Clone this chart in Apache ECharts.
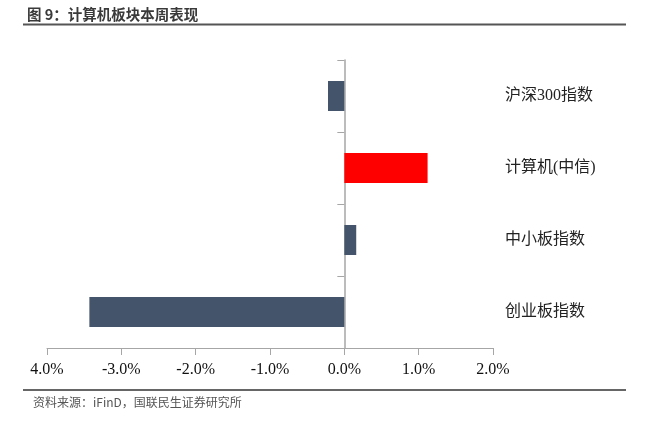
<!DOCTYPE html>
<html>
<head>
<meta charset="utf-8">
<script src="https://cdn.jsdelivr.net/npm/echarts@6/dist/echarts.min.js"></script>
<style>
html,body{margin:0;padding:0;background:#fff;}
#c{width:645px;height:424px;}
</style>
</head>
<body>
<div id="c"></div>
<script>
// Data (top to bottom)
var categories = ['沪深300指数', '计算机(中信)', '中小板指数', '创业板指数'];
var weeklyChange = [-0.22, 1.12, 0.16, -3.43];
var highlightCategory = '计算机(中信)';
var xTickValues = [-4, -3, -2, -1, 0, 1, 2];
var xTickLabels = ['4.0%', '-3.0%', '-2.0%', '-1.0%', '0.0%', '1.0%', '2.0%'];

var chart = echarts.init(document.getElementById('c'), null, {renderer: 'canvas'});
var serif = '"Liberation Serif", "Times New Roman", serif';
var cjk = '"Liberation Serif", "Noto Sans CJK SC", serif';

chart.setOption({
  animation: false,
  backgroundColor: '#ffffff',
  title: {
    text: '图 9：计算机板块本周表现',
    left: 27, top: 7, padding: 0,
    textStyle: {fontSize: 14.5, fontWeight: 'bold', color: '#3a3a3a', fontFamily: '"Noto Sans CJK SC", sans-serif'}
  },
  graphic: [
    {type: 'line', shape: {x1: 23, y1: 24.5, x2: 626, y2: 24.5}, style: {stroke: '#555', lineWidth: 2}},
    {type: 'line', shape: {x1: 23, y1: 390, x2: 626, y2: 390}, style: {stroke: '#666', lineWidth: 2}},
    {type: 'text', left: 33, top: 396, style: {text: '资料来源：iFinD，国联民生证券研究所', fontSize: 12, fill: '#555', fontFamily: '"Noto Sans CJK SC", sans-serif'}}
  ],
  grid: {left: 47, right: 152, top: 60, bottom: 76, containLabel: false},
  xAxis: {
    type: 'value', min: -4, max: 2, interval: 1,
    axisLine: {show: true, onZero: false, lineStyle: {color: '#a6a6a6', width: 1}},
    axisTick: {show: true, length: 7, lineStyle: {color: '#a6a6a6'}},
    splitLine: {show: false},
    axisLabel: {
      margin: 14, fontSize: 16, color: '#111', fontFamily: serif,
      formatter: function (v) {
        var i = xTickValues.indexOf(Math.round(v));
        return i >= 0 ? xTickLabels[i] : '';
      }
    }
  },
  yAxis: [
    {
      type: 'category', data: categories, inverse: true,
      axisLine: {show: true, onZero: true, lineStyle: {color: '#a6a6a6', width: 1.5}},
      axisTick: {show: true, length: 7, lineStyle: {color: '#a6a6a6'}},
      axisLabel: {show: false}
    },
    {
      type: 'category', data: categories, inverse: true, position: 'right',
      axisLine: {show: false}, axisTick: {show: false},
      axisLabel: {show: true, margin: 12, fontSize: 16, color: '#222', fontFamily: cjk}
    }
  ],
  series: [{
    type: 'bar',
    yAxisIndex: 0,
    barWidth: 30,
    data: weeklyChange,
    itemStyle: {
      color: function (p) { return categories[p.dataIndex] === highlightCategory ? '#ff0000' : '#44546a'; }
    }
  }]
});
</script>
</body>
</html>
